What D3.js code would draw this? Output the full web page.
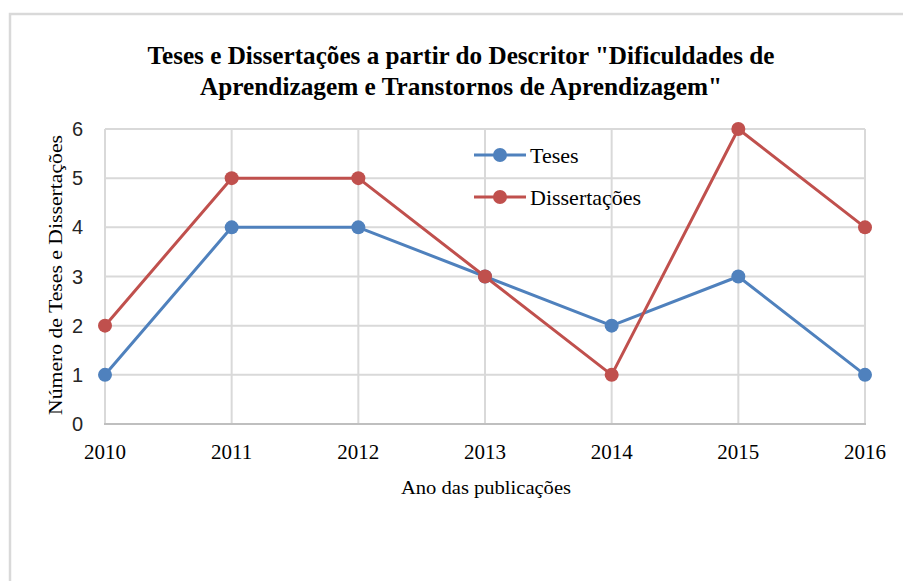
<!DOCTYPE html>
<html>
<head>
<meta charset="utf-8">
<script src="https://cdn.jsdelivr.net/npm/d3@7"></script>
<style>
  body { margin: 0; background: #fff; }
  svg { display: block; }
</style>
</head>
<body>
<div id="chart"></div>
<script>
// data
const years = ["2010", "2011", "2012", "2013", "2014", "2015", "2016"];
const teses = [1, 4, 4, 3, 2, 3, 1];
const dissertacoes = [2, 5, 5, 3, 1, 6, 4];
const yTicks = [0, 1, 2, 3, 4, 5, 6];
const titleLines = [
  "Teses e Dissertações a partir  do Descritor \"Dificuldades de",
  "Aprendizagem  e Transtornos  de Aprendizagem\""
];

const width = 903;
const height = 581;
const margin = { top: 129, right: 38, bottom: 157, left: 105 };

const svg = d3.select("#chart")
  .append("svg")
  .attr("width", width)
  .attr("height", height);

svg.append("rect")
  .attr("width", width)
  .attr("height", height)
  .attr("fill", "#fff");

// outer chart frame (only top/left visible)
svg.append("rect")
  .attr("x", 10)
  .attr("y", 14)
  .attr("width", width + 20)
  .attr("height", height + 20)
  .attr("fill", "none")
  .attr("stroke", "#d9d9d9")
  .attr("stroke-width", 2.5);

const x = d3.scalePoint().domain(years).range([margin.left, width - margin.right]);
const y = d3.scaleLinear().domain([0, 6]).range([height - margin.bottom, margin.top]);

// horizontal grid
svg.append("g")
  .selectAll("line")
  .data(yTicks.filter(d => d > 0))
  .join("line")
  .attr("x1", x(years[0]))
  .attr("x2", x(years[years.length - 1]))
  .attr("y1", d => y(d))
  .attr("y2", d => y(d))
  .attr("stroke", "#d9d9d9")
  .attr("stroke-width", 2);

// vertical grid
svg.append("g")
  .selectAll("line")
  .data(years)
  .join("line")
  .attr("x1", d => x(d))
  .attr("x2", d => x(d))
  .attr("y1", y(6))
  .attr("y2", y(0))
  .attr("stroke", "#d9d9d9")
  .attr("stroke-width", 2);

// x axis line
svg.append("line")
  .attr("x1", x(years[0]) - 1)
  .attr("x2", x(years[years.length - 1]) + 1)
  .attr("y1", y(0))
  .attr("y2", y(0))
  .attr("stroke", "#bfbfbf")
  .attr("stroke-width", 2);

// y tick labels
svg.append("g")
  .selectAll("text")
  .data(yTicks)
  .join("text")
  .attr("x", 83)
  .attr("y", d => y(d))
  .attr("dy", "0.35em")
  .attr("text-anchor", "end")
  .attr("font-family", "Liberation Sans, Arial, sans-serif")
  .attr("font-size", 20)
  .attr("fill", "#262626")
  .text(d => d);

// x tick labels
svg.append("g")
  .selectAll("text")
  .data(years)
  .join("text")
  .attr("x", d => x(d))
  .attr("y", 459)
  .attr("text-anchor", "middle")
  .attr("font-family", "Liberation Serif, Times New Roman, serif")
  .attr("font-size", 21)
  .attr("fill", "#000")
  .text(d => d);

// axis titles
svg.append("text")
  .attr("x", 486)
  .attr("y", 494)
  .attr("text-anchor", "middle")
  .attr("font-family", "Liberation Serif, Times New Roman, serif")
  .attr("font-size", 19)
  .attr("textLength", 170)
  .attr("lengthAdjust", "spacingAndGlyphs")
  .text("Ano das publicações");

svg.append("text")
  .attr("transform", "translate(62,275) rotate(-90)")
  .attr("text-anchor", "middle")
  .attr("font-family", "Liberation Serif, Times New Roman, serif")
  .attr("font-size", 19)
  .attr("textLength", 280)
  .attr("lengthAdjust", "spacingAndGlyphs")
  .text("Número de Teses e Dissertações");

// title
const titleWidths = [627, 522];
svg.append("g")
  .selectAll("text")
  .data(titleLines)
  .join("text")
  .attr("x", 461)
  .attr("y", (d, i) => 64 + i * 31)
  .attr("text-anchor", "middle")
  .attr("font-family", "Liberation Serif, Times New Roman, serif")
  .attr("font-weight", "bold")
  .attr("font-size", 26)
  .attr("textLength", (d, i) => titleWidths[i])
  .attr("lengthAdjust", "spacingAndGlyphs")
  .text(d => d);

// series
const series = [
  { name: "Teses", values: teses, color: "#4f81bd" },
  { name: "Dissertações", values: dissertacoes, color: "#c0504d" }
];

const line = d3.line()
  .x((d, i) => x(years[i]))
  .y(d => y(d));

series.forEach(s => {
  svg.append("path")
    .datum(s.values)
    .attr("d", line)
    .attr("fill", "none")
    .attr("stroke", s.color)
    .attr("stroke-width", 3)
    .attr("stroke-linejoin", "round");

  svg.append("g")
    .selectAll("circle")
    .data(s.values)
    .join("circle")
    .attr("cx", (d, i) => x(years[i]))
    .attr("cy", d => y(d))
    .attr("r", 7)
    .attr("fill", s.color);
});

// legend
const legend = svg.append("g")
  .selectAll("g")
  .data(series)
  .join("g")
  .attr("transform", (d, i) => `translate(474,${155 + i * 42})`);

legend.append("line")
  .attr("x1", 0)
  .attr("x2", 52)
  .attr("stroke", d => d.color)
  .attr("stroke-width", 3);

legend.append("circle")
  .attr("cx", 26)
  .attr("r", 7)
  .attr("fill", d => d.color);

legend.append("text")
  .attr("x", 56)
  .attr("dy", "0.35em")
  .attr("font-family", "Liberation Serif, Times New Roman, serif")
  .attr("font-size", 22)
  .attr("fill", "#000")
  .text(d => d.name);
</script>
</body>
</html>
